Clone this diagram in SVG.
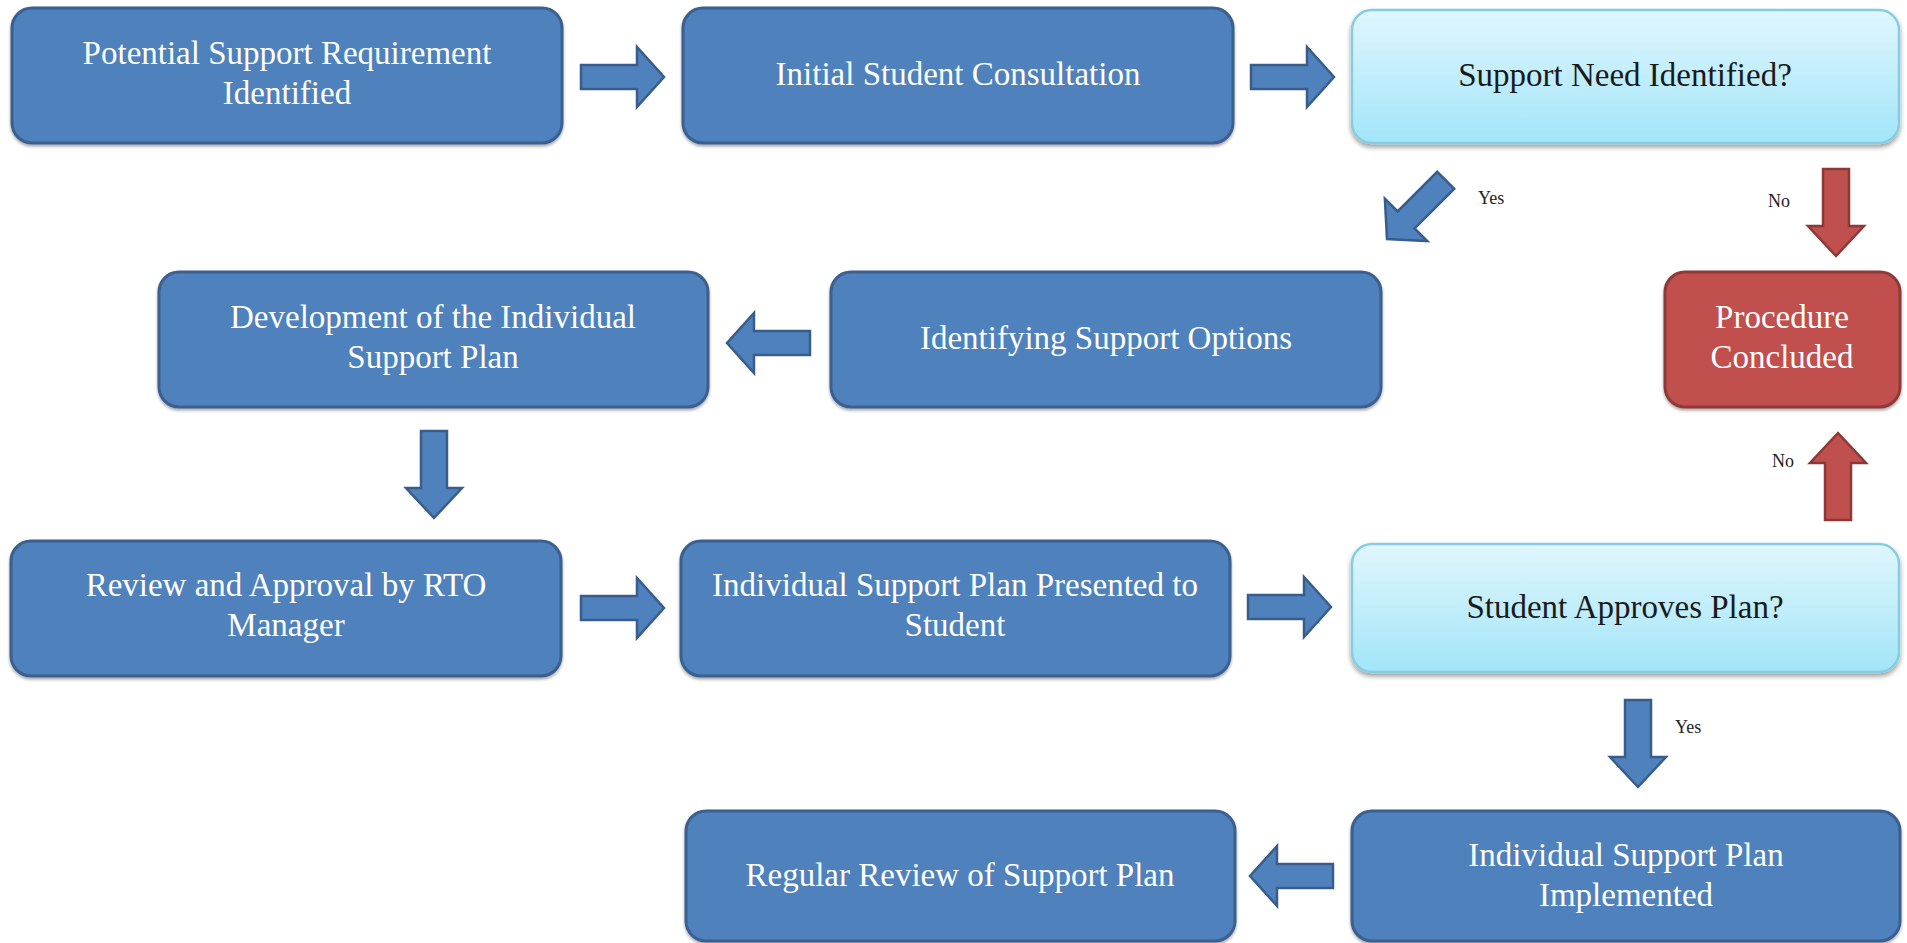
<svg xmlns="http://www.w3.org/2000/svg" width="1907" height="943" viewBox="0 0 1907 943">
<defs>
<style>
.box{fill:#4F81BD;stroke:#3B6090;stroke-width:3;filter:url(#sh)}
.dec{fill:url(#gDec);stroke:#86CDE2;stroke-width:2.5;filter:url(#sh2)}
.red{fill:#C0504D;stroke:#8E3B39;stroke-width:3;filter:url(#sh)}
.t{font-family:"Liberation Serif","Times New Roman",serif;font-size:33px;fill:#FFFFFF;text-anchor:middle}
.td{font-family:"Liberation Serif","Times New Roman",serif;font-size:33px;fill:#1A1A1A;text-anchor:middle}
.lbl{font-family:"Liberation Serif","Times New Roman",serif;font-size:18px;fill:#222222}
.ab{fill:#4F81BD;stroke:#385D8A;stroke-width:2.5;stroke-linejoin:miter}
.ar{fill:#C0504D;stroke:#8C3836;stroke-width:2.5;stroke-linejoin:miter}
</style>
<linearGradient id="gDec" x1="0" y1="0" x2="0" y2="1">
<stop offset="0" stop-color="#E0F6FD"/>
<stop offset="1" stop-color="#A2E5F9"/>
</linearGradient>
<filter id="sh" x="-5%" y="-5%" width="110%" height="115%">
<feGaussianBlur in="SourceAlpha" stdDeviation="1.5"/>
<feOffset dx="0" dy="1.5" result="b"/>
<feComponentTransfer><feFuncA type="linear" slope="0.35"/></feComponentTransfer>
<feMerge><feMergeNode/><feMergeNode in="SourceGraphic"/></feMerge>
</filter>
<filter id="sh2" x="-5%" y="-5%" width="110%" height="120%">
<feGaussianBlur in="SourceAlpha" stdDeviation="2.5"/>
<feOffset dx="0" dy="3" result="b"/>
<feComponentTransfer><feFuncA type="linear" slope="0.4"/></feComponentTransfer>
<feMerge><feMergeNode/><feMergeNode in="SourceGraphic"/></feMerge>
</filter>
<path id="harr" d="M-83,-12 H-27 V-30 L0,0 L-27,30 V12 H-83 Z"/>
<path id="varr" d="M-87,-13 H-30 V-28 L0,0 L-30,28 V13 H-87 Z"/>
</defs>
<rect width="1907" height="943" fill="#FFFFFF"/>

<g id="connectors">
<use href="#harr" class="ab" transform="translate(664,77)"/>
<use href="#harr" class="ab" transform="translate(1334,77)"/>
<use href="#harr" class="ab" transform="translate(1387,239) rotate(135)"/>
<use href="#varr" class="ar" transform="translate(1836,256) rotate(90)"/>
<use href="#harr" class="ab" transform="translate(727,343) rotate(180)"/>
<use href="#varr" class="ab" transform="translate(434,518) rotate(90)"/>
<use href="#varr" class="ar" transform="translate(1838,433) rotate(-90)"/>
<use href="#harr" class="ab" transform="translate(664,608)"/>
<use href="#harr" class="ab" transform="translate(1331,607)"/>
<use href="#varr" class="ab" transform="translate(1638,787) rotate(90)"/>
<use href="#harr" class="ab" transform="translate(1250,876) rotate(180)"/>
<text class="lbl" x="1478" y="204">Yes</text>
<text class="lbl" x="1768" y="207">No</text>
<text class="lbl" x="1772" y="467">No</text>
<text class="lbl" x="1675" y="733">Yes</text>
</g>

<g id="n1">
<rect class="box" x="12" y="8" width="550" height="135" rx="20"/>
<text class="t" x="287" y="64">Potential Support Requirement</text>
<text class="t" x="287" y="104">Identified</text>
</g>
<g id="n2">
<rect class="box" x="683" y="8" width="550" height="135" rx="20"/>
<text class="t" x="958" y="85">Initial Student Consultation</text>
</g>
<g id="n3">
<rect class="dec" x="1352" y="10" width="547" height="133" rx="20"/>
<text class="td" x="1625" y="86">Support Need Identified?</text>
</g>
<g id="n4">
<rect class="box" x="831" y="272" width="550" height="135" rx="20"/>
<text class="t" x="1106" y="349">Identifying Support Options</text>
</g>
<g id="n5">
<rect class="box" x="159" y="272" width="549" height="135" rx="20"/>
<text class="t" x="433" y="328">Development of the Individual</text>
<text class="t" x="433" y="368">Support Plan</text>
</g>
<g id="n6">
<rect class="red" x="1665" y="272" width="235" height="135" rx="20"/>
<text class="t" x="1782" y="328">Procedure</text>
<text class="t" x="1782" y="368">Concluded</text>
</g>
<g id="n7">
<rect class="box" x="11" y="541" width="550" height="135" rx="20"/>
<text class="t" x="286" y="596">Review and Approval by RTO</text>
<text class="t" x="286" y="636">Manager</text>
</g>
<g id="n8">
<rect class="box" x="681" y="541" width="549" height="135" rx="20"/>
<text class="t" x="955" y="596">Individual Support Plan Presented to</text>
<text class="t" x="955" y="636">Student</text>
</g>
<g id="n9">
<rect class="dec" x="1352" y="544" width="547" height="128" rx="20"/>
<text class="td" x="1625" y="618">Student Approves Plan?</text>
</g>
<g id="n10">
<rect class="box" x="1352" y="811" width="548" height="130" rx="20"/>
<text class="t" x="1626" y="866">Individual Support Plan</text>
<text class="t" x="1626" y="906">Implemented</text>
</g>
<g id="n11">
<rect class="box" x="686" y="811" width="549" height="130" rx="20"/>
<text class="t" x="960" y="886">Regular Review of Support Plan</text>
</g>
</svg>
